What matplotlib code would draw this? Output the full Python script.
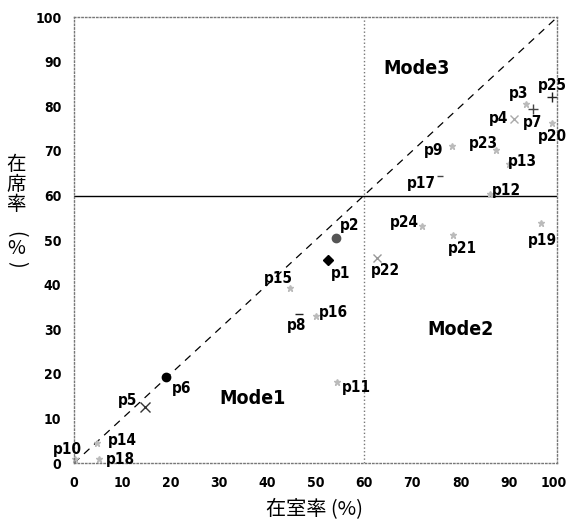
import numpy as np
import matplotlib
matplotlib.use('Agg')
import matplotlib.pyplot as plt
import matplotlib.transforms as mtransforms
from matplotlib import font_manager as fm

# data (在室率 x, 在席率 y, both in %)
names = ['p1', 'p2', 'p3', 'p4', 'p5', 'p6', 'p7', 'p8', 'p9', 'p10',
         'p11', 'p12', 'p13', 'p14', 'p15', 'p16', 'p17', 'p18', 'p19', 'p20',
         'p21', 'p22', 'p23', 'p24', 'p25']
room = [52.6, 54.2, 93.5, 91.1, 14.7, 19.0, 95.0, 46.6, 78.2, 0.2,
        54.4, 86.1, 90.0, 4.8, 44.7, 50.0, 75.8, 5.2, 96.7, 99.0,
        78.5, 62.7, 87.4, 72.0, 99.0]
seat = [45.5, 50.4, 80.5, 77.1, 12.6, 19.3, 79.4, 33.4, 71.1, 1.0,
        18.2, 60.4, 67.0, 4.5, 39.2, 33.0, 64.3, 0.9, 53.8, 76.2,
        51.1, 46.0, 70.2, 53.1, 82.0]
ticks = list(range(0, 101, 10))
modes = ['Mode1', 'Mode2', 'Mode3']
mode_pos = [(37, 14.5), (80, 30), (71, 88.5)]

# marker style per point (marker, size, colour)
styles = {
    'p1': ('D', 5, 'black'), 'p2': ('o', 6, '#555555'), 'p6': ('o', 6, 'black'),
    'p5': ('x', 7, '#333333'), 'p4': ('x', 6, '#aaaaaa'), 'p7': ('+', 7, '#444444'),
    'p25': ('+', 7, '#222222'), 'p22': ('x', 6, '#999999'), 'p8': ('_', 6, '#222222'),
    'p17': ('_', 5, '#444444'),
}
# label offsets in pixels from marker
offs = {
    'p1': (13, -13), 'p2': (14, 13), 'p3': (-7, 11), 'p4': (-16, 1), 'p5': (-17, 6),
    'p6': (16, -11), 'p7': (0, -13), 'p8': (-2, -11), 'p9': (-18, -4), 'p10': (-7, 9),
    'p11': (20, -5), 'p12': (16, 3), 'p13': (14, 3), 'p14': (25, 3), 'p15': (-12, 10),
    'p16': (18, 3), 'p17': (-19, -7), 'p18': (21, 0), 'p19': (1, -17), 'p20': (0, -13),
    'p21': (9, -13), 'p22': (9, -12), 'p23': (-13, 7), 'p24': (-17, 4), 'p25': (0, 12),
}

# pick a narrow bold face if one is installed
lab_font, lab_stretch = ['DejaVu Sans'], 'normal'
for f in fm.fontManager.ttflist:
    fn = f.fname.lower()
    if ('narrow' in fn or 'condensed' in fn or 'cond' in fn) and 'bold' in fn:
        lab_font, lab_stretch = [f.name, 'DejaVu Sans'], f.stretch
        break
cjk_font = ['Noto Sans CJK JP', 'DejaVu Sans']
lab = dict(fontweight='bold', family=lab_font, fontstretch=lab_stretch)

W, H = 568, 521
fig = plt.figure(figsize=(W / 100, H / 100), dpi=100)
ax = fig.add_axes([0.130, 0.111, 0.851, 0.856])

ax.plot([0, 100], [0, 100], color='black', ls=(0, (6, 5)), lw=0.9)
ax.axhline(60, color='black', lw=1.0)
ax.axvline(60, color='#777777', ls=':', lw=1.0)

for n, x, y in zip(names, room, seat):
    m, s, c = styles.get(n, ('*', 5, '#bbbbbb'))
    ax.plot(x, y, marker=m, ms=s, color=c, mew=1.0, ls='none', clip_on=False)
    dx, dy = offs[n]
    ax.annotate(n, (x, y), xytext=(dx, dy), textcoords='offset pixels',
                ha='center', va='center', fontsize=11, **lab)

for t, (x, y) in zip(modes, mode_pos):
    ax.text(x, y, t, ha='center', va='center', fontsize=14, **lab)

ax.set_xlim(0, 100)
ax.set_ylim(0, 100)
ax.set_xticks(ticks)
ax.set_yticks(ticks)
ax.tick_params(length=0, pad=9)
for lb in ax.get_xticklabels() + ax.get_yticklabels():
    lb.set_fontsize(10)
    lb.set_fontweight('bold')
    lb.set_family(lab_font)
    lb.set_fontstretch(lab_stretch)
# last x tick label sits a little inside the figure edge
last = ax.get_xticklabels()[-1]
last.set_transform(last.get_transform() +
                   mtransforms.ScaledTranslation(-4 / 100, 0, fig.dpi_scale_trans))
for sp in ax.spines.values():
    sp.set_linestyle(':')
    sp.set_color('#777777')
    sp.set_linewidth(1.0)

# axis titles
fig.text(315 / W, 1 - 510 / H, '在室率 (%)', fontsize=14.5, family=cjk_font,
         ha='center', va='center')
for ch, py in zip(['在', '席', '率'], [164, 184, 204]):
    fig.text(16 / W, 1 - py / H, ch, fontsize=14, family=cjk_font,
             ha='center', va='center')
fig.text(16 / W, 1 - 234 / H, '(', fontsize=14, family=cjk_font,
         ha='center', va='center', rotation=-90)
fig.text(16 / W, 1 - 249 / H, '%', fontsize=14, family=cjk_font,
         ha='center', va='center')
fig.text(16 / W, 1 - 264 / H, ')', fontsize=14, family=cjk_font,
         ha='center', va='center', rotation=-90)

fig.savefig('out.png', dpi=100)
